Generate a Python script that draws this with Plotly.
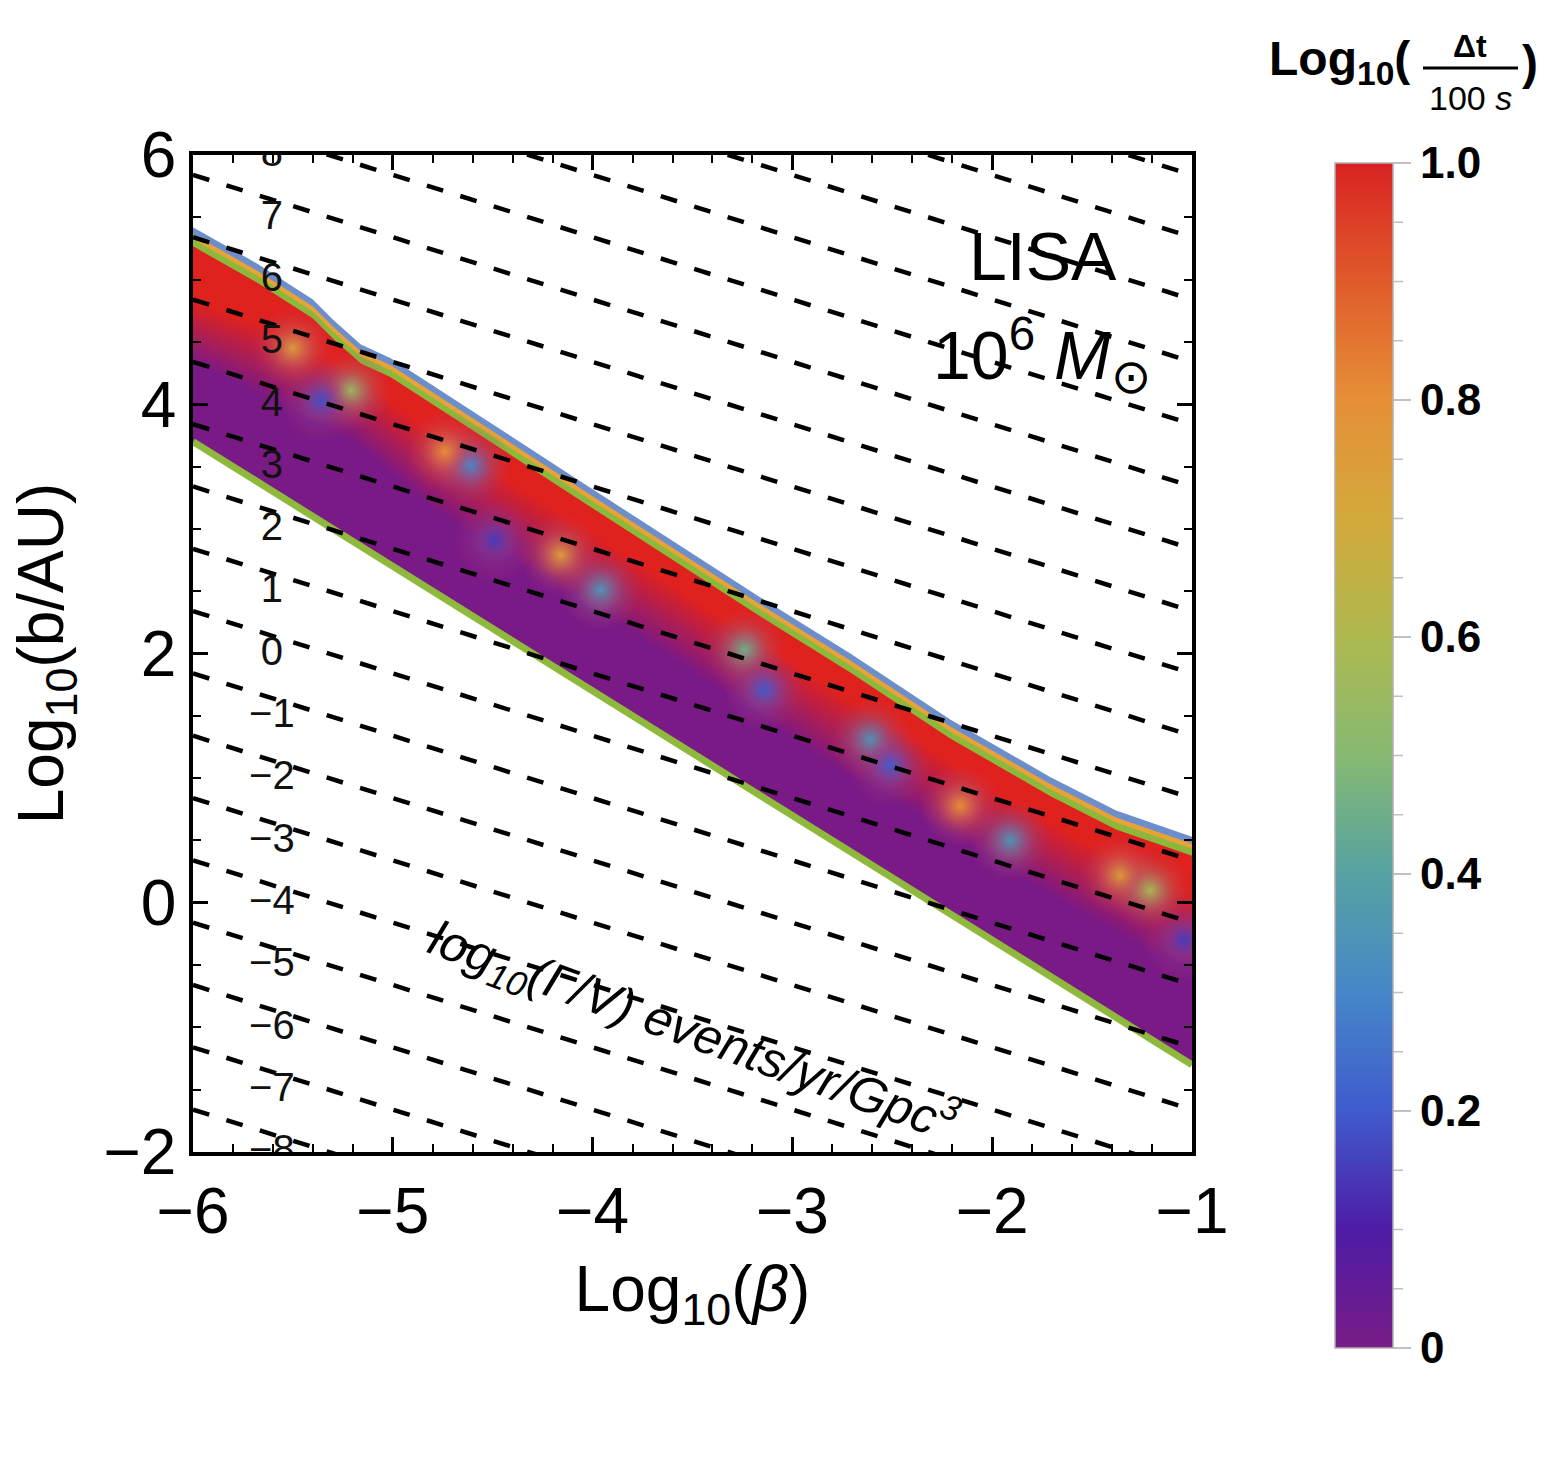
import plotly.graph_objects as go
from plotly.colors import sample_colorscale
import numpy as np

# ---------------- data ----------------
# dashed contour lines of log10(Gamma/V): value at left (x=-6) and right (x=-1) edges
contour_levels = [-8, -7, -6, -5, -4, -3, -2, -1, 0, 1, 2, 3, 4, 5, 6, 7, 8, 9, 10, 11, 12]
contour_y_left = [-1.66, -1.16, -0.66, -0.16, 0.34, 0.84, 1.34, 1.84, 2.34, 2.84, 3.34,
                  3.84, 4.34, 4.84, 5.34, 5.84, 6.34, 6.84, 7.34, 7.84, 8.34]
contour_y_right = [-4.16, -3.66, -3.16, -2.66, -2.16, -1.66, -1.16, -0.66, -0.16, 0.34, 0.84,
                   1.34, 1.84, 2.34, 2.84, 3.34, 3.84, 4.34, 4.84, 5.34, 5.84]

# contour labels
label_text = ["8", "7", "6", "5", "4", "3", "2", "1", "0",
              "\u22121", "\u22122", "\u22123", "\u22124", "\u22125", "\u22126", "\u22127", "\u22128"]
label_x = -5.605
label_y = [5.99, 5.49, 4.99, 4.49, 3.99, 3.49, 2.99, 2.49, 1.99,
           1.49, 0.99, 0.49, -0.01, -0.51, -1.01, -1.51, -2.01]

# detectable band: upper and lower boundaries
upper_x = [-6.0, -5.68, -5.40, -5.30, -5.16, -5.01, -4.06, -3.16, -2.71, -2.21, -1.71, -1.38, -1.0]
upper_y = [5.42, 5.13, 4.84, 4.68, 4.48, 4.37, 3.38, 2.45, 2.00, 1.47, 1.01, 0.74, 0.53]
lower_x = [-6.0, -2.71, -1.0]
lower_y = [3.70, 0.41, -1.30]

# red -> purple transition inside the band
trans_x = [-6.0, -5.6, -5.2, -4.8, -4.4, -4.0, -3.6, -3.2, -2.8, -2.4, -2.0, -1.6, -1.2, -1.0]
red_bottom_y = [4.85, 4.62, 4.28, 3.80, 3.40, 3.00, 2.58, 2.15, 1.75, 1.35, 0.95, 0.57, 0.25, 0.12]
purple_top_y = [4.35, 4.05, 3.72, 3.18, 2.78, 2.38, 1.98, 1.55, 1.12, 0.76, 0.36, -0.02, -0.38, -0.52]

# blurred colour spots along the transition (position and log10(dt/100s) value)
spot_x = [-5.50, -5.21, -5.36, -4.61, -4.49, -4.74, -3.96, -4.16, -3.24, -3.14,
          -2.61, -2.51, -2.16, -1.91, -1.36, -1.21, -1.04]
spot_y = [4.45, 4.11, 4.03, 3.51, 2.91, 3.62, 2.51, 2.79, 2.03, 1.71,
          1.31, 1.10, 0.78, 0.50, 0.22, 0.10, -0.30]
spot_v = [0.75, 0.55, 0.18, 0.30, 0.15, 0.80, 0.35, 0.75, 0.45, 0.20,
          0.35, 0.20, 0.80, 0.35, 0.75, 0.58, 0.15]

# colour bar
cbar_tickvals = [0, 0.2, 0.4, 0.6, 0.8, 1.0]
cbar_ticktext = ["0", "0.2", "0.4", "0.6", "0.8", "1.0"]
rainbow = [[0.0, "#781c86"], [0.1, "#4e1ca6"], [0.2, "#405bcd"], [0.3, "#4687c8"],
           [0.4, "#56a2a2"], [0.5, "#86b972"], [0.6, "#aeb94f"], [0.7, "#d4a93b"],
           [0.8, "#e58f37"], [0.9, "#e05b2b"], [1.0, "#d92222"]]

# ---------------- geometry helpers ----------------
L, R, T, B = 193, 1192, 155, 1152
W, H = 1563, 1465
YPX = (B - T) / 8.0  # px per y unit


def paper(px, py):
    return (px - L) / (R - L), (B - py) / (B - T)


def shift(ys, px):
    return [v - px / YPX for v in ys]


def poly(xt, yt, xb, yb):
    return list(xt) + list(xb)[::-1] + [xt[0]], list(yt) + list(yb)[::-1] + [yt[0]]


def mix(c1, c2, t):
    a = np.array([int(c1[k:k + 2], 16) for k in (1, 3, 5)])
    b = np.array([int(c2[k:k + 2], 16) for k in (1, 3, 5)])
    c = (a + (b - a) * t).round().astype(int)
    return "rgb(%d,%d,%d)" % tuple(c)


fig = go.Figure()


def add_fill(xs, ys, color, opacity=1.0):
    fig.add_trace(go.Scatter(x=xs, y=ys, mode="lines", fill="toself", fillcolor=color,
                             line=dict(width=0, color=color), opacity=opacity,
                             hoverinfo="skip", showlegend=False))


RED, PURPLE = "#e0221f", "#7a1a87"

# top thin strips (blue, orange, green) and the red region
add_fill(*poly(upper_x, upper_y, lower_x, lower_y), "#6c8fcb")
add_fill(*poly(upper_x, shift(upper_y, 7), lower_x, lower_y), "#e8a238")
add_fill(*poly(upper_x, shift(upper_y, 12), lower_x, lower_y), "#8cb93b")
add_fill(*poly(upper_x, shift(upper_y, 19), lower_x, lower_y), RED)

# blurred transition red -> purple
n = 10
for k in range(1, n + 1):
    f = k / (n + 1)
    top = [rb + (pt - rb) * f for rb, pt in zip(red_bottom_y, purple_top_y)]
    add_fill(*poly(trans_x, top, lower_x, lower_y), mix(RED, PURPLE, f))

add_fill(*poly(trans_x, purple_top_y, lower_x, lower_y), PURPLE)

# blurred rainbow spots (radial gradient: centre colour from the colour scale, transparent rim)
spot_colors = sample_colorscale(rainbow, spot_v)
for sz, op in ((82, 0.8), (48, 0.9)):
    fig.add_trace(go.Scatter(x=spot_x, y=spot_y, mode="markers", cliponaxis=True,
                             marker=dict(color="rgba(190,50,110,0)", size=sz, opacity=op,
                                         line=dict(width=0),
                                         gradient=dict(type="radial", color=spot_colors)),
                             hoverinfo="skip", showlegend=False))

# lower green edge
fig.add_trace(go.Scatter(x=lower_x, y=lower_y, mode="lines",
                         line=dict(color="#8fb93c", width=7),
                         hoverinfo="skip", showlegend=False))

# dashed contour lines
for lev, yl, yr in zip(contour_levels, contour_y_left, contour_y_right):
    fig.add_trace(go.Scatter(x=[-6, -1], y=[yl, yr], mode="lines",
                             line=dict(color="black", width=4.5, dash="17px,18px"),
                             hoverinfo="skip", showlegend=False))

# contour labels (clipped at the frame)
fig.add_trace(go.Scatter(x=[label_x] * len(label_text), y=label_y, mode="text",
                         text=label_text, cliponaxis=True,
                         textfont=dict(family="Liberation Sans, Arial", size=40, color="#111111"),
                         hoverinfo="skip", showlegend=False))

# colour bar carrier
fig.add_trace(go.Scatter(x=[-10], y=[-10], mode="markers",
                         marker=dict(color=[0.5], colorscale=rainbow, cmin=0, cmax=1, size=1,
                                     showscale=True,
                                     colorbar=dict(
                                         x=paper(1335, 0)[0], xanchor="left", xpad=0,
                                         y=paper(0, 1348)[1], yanchor="bottom", ypad=0,
                                         len=1348 - 163, lenmode="pixels",
                                         thickness=58, thicknessmode="pixels",
                                         outlinecolor="#b0b0b0", outlinewidth=1.5,
                                         tickvals=cbar_tickvals, ticktext=cbar_ticktext,
                                         ticks="outside", ticklen=18, tickwidth=1.5,
                                         tickcolor="#c0c0c0",
                                         tickfont=dict(family="Liberation Sans, Arial", size=44,
                                                       color="black", weight="bold"))),
                         hoverinfo="skip", showlegend=False))

font_main = "Liberation Sans, Arial"

fig.update_layout(
    width=W, height=H,
    margin=dict(l=L, r=W - R, t=T, b=H - B),
    plot_bgcolor="white", paper_bgcolor="white",
    showlegend=False,
    font=dict(family=font_main, color="black"),
)

fig.update_xaxes(range=[-6, -1], tickvals=[-6, -5, -4, -3, -2, -1],
                 ticks="inside", ticklen=15, tickwidth=2.5, tickcolor="black",
                 showline=True, linewidth=3.5, linecolor="black", mirror="allticks",
                 showgrid=False, zeroline=False,
                 minor=dict(tick0=-6, dtick=0.2, ticks="inside", ticklen=8, tickwidth=2,
                            tickcolor="black", showgrid=False),
                 tickfont=dict(size=64, family=font_main),
                 ticklabelstandoff=0,
                 title=dict(text="Log<sub>10</sub>(<i>β</i>)", font=dict(size=64, family=font_main),
                            standoff=22))
fig.update_yaxes(range=[-2, 6], tickvals=[-2, 0, 2, 4, 6],
                 ticks="inside", ticklen=15, tickwidth=2.5, tickcolor="black",
                 showline=True, linewidth=3.5, linecolor="black", mirror="allticks",
                 showgrid=False, zeroline=False,
                 minor=dict(tick0=-2, dtick=0.5, ticks="inside", ticklen=8, tickwidth=2,
                            tickcolor="black", showgrid=False),
                 tickfont=dict(size=64, family=font_main),
                 ticklabelstandoff=0,
                 title=dict(text="Log<sub>10</sub>(b/AU)", font=dict(size=64, family=font_main),
                            standoff=20))

ann = []


def add_text(px, py, text, size, **kw):
    x, y = paper(px, py)
    d = dict(x=x, y=y, xref="paper", yref="paper", text=text, showarrow=False,
             font=dict(size=size, family=font_main, color=kw.pop("color", "black"),
                       weight=kw.pop("weight", "normal")),
             xanchor=kw.pop("xanchor", "center"), yanchor=kw.pop("yanchor", "middle"))
    d.update(kw)
    ann.append(d)


add_text(1043, 256, "LISA", 68)
add_text(1042, 355, "10<sup>6</sup> <i>M</i><sub>⊙</sub>", 68)
add_text(693, 1030, "<i>log<sub>10</sub>(Γ/V) events/yr/Gpc<sup>3</sup></i>", 50, textangle=20)

# colour bar title  Log10( Δt / 100 s )
add_text(1267, 62, "Log<sub>10</sub>(", 48, weight="bold", xanchor="left")
add_text(1470, 46, "Δt", 32, weight="bold")
add_text(1470, 98, "100 <i>s</i>", 34)
add_text(1530, 62, ")", 48, weight="bold")
fig.update_layout(annotations=ann)

shapes = []
x0, y0 = paper(1423, 68)
x1, _ = paper(1518, 68)
shapes.append(dict(type="line", xref="paper", yref="paper", x0=x0, x1=x1, y0=y0, y1=y0,
                   line=dict(color="black", width=3)))
# colour-bar minor ticks
for i in range(21):
    if i % 4 == 0:
        continue
    py = 1348 - (1348 - 163) * i / 20.0
    xa, ya = paper(1393, py)
    xb, _ = paper(1403, py)
    shapes.append(dict(type="line", xref="paper", yref="paper", x0=xa, x1=xb, y0=ya, y1=ya,
                       line=dict(color="#c0c0c0", width=1.5)))
fig.update_layout(shapes=shapes)

fig.write_html("out.html")
